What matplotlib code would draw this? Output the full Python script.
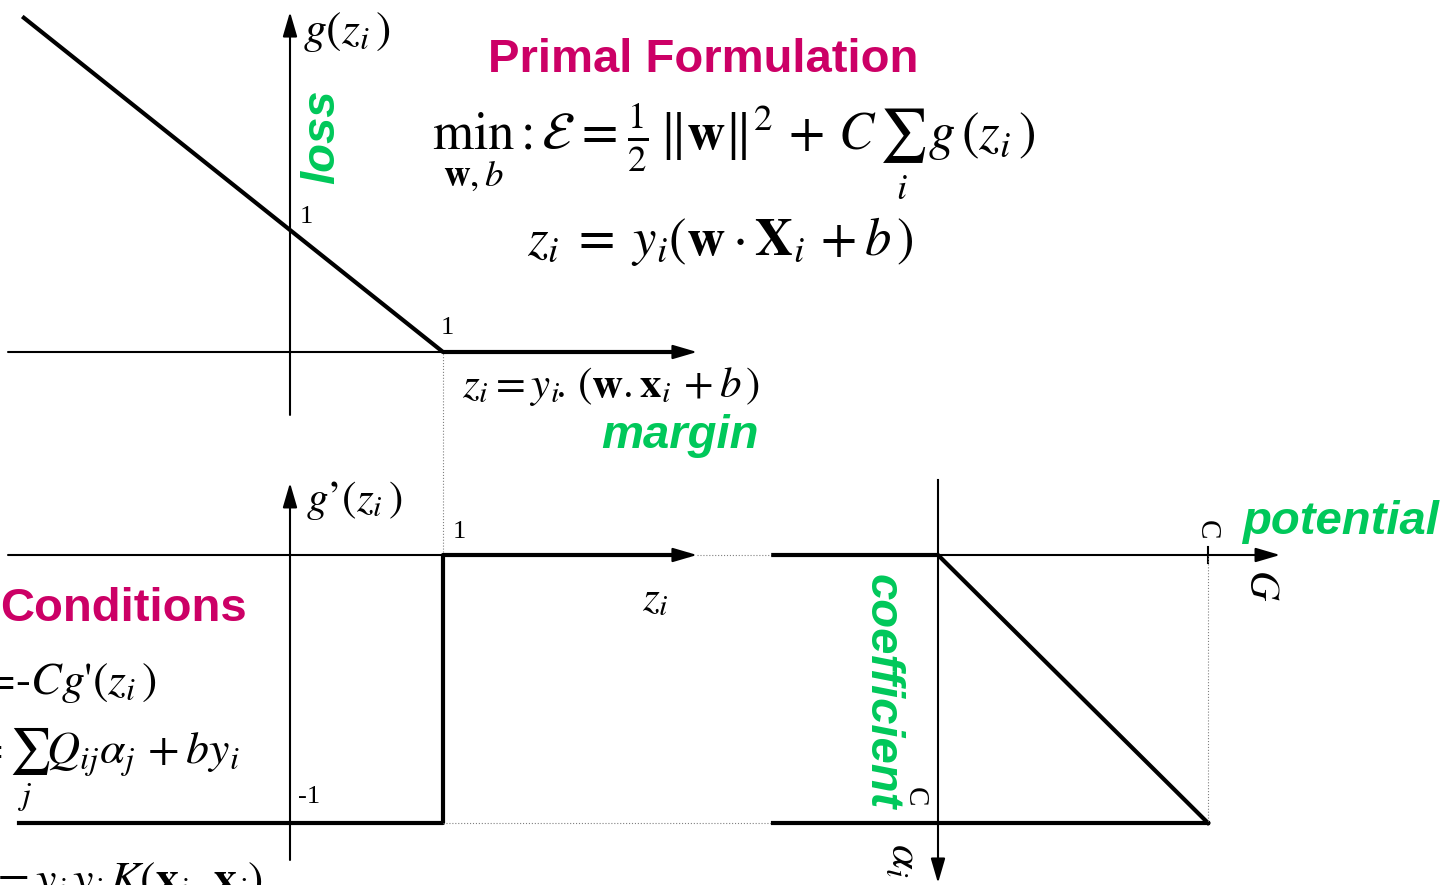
import matplotlib
matplotlib.use("Agg")
import matplotlib.pyplot as plt

W, H = 1449, 885

# hinge loss g(z) = max(0, 1 - z)
z_loss = [-1.75, 1.0, 2.6]
g_loss = [2.75, 0.0, 0.0]

# derivative g'(z): -1 below the margin, 0 above it
z_grad = [-1.77, 1.0, 1.0, 2.6]
g_grad = [-1.0, -1.0, 0.0, 0.0]

# coefficient alpha against potential G (C = 1)
C = 1.0
G_coef = [-0.61, 0.0, C]
alpha_coef = [0.0, 0.0, C]
G_box = [-0.61, C]
alpha_box = [C, C]

MAGENTA = "#cc0066"
GREEN = "#00c85a"
SANS = "Liberation Sans"
SERIF = "Liberation Serif"
STIX = "STIXGeneral"

plt.rcParams["mathtext.fontset"] = "stix"

fig = plt.figure(figsize=(W / 100, H / 100), dpi=100)
fig.patch.set_facecolor("white")


def panel(left, top, right, bottom, x0, y0, sx, sy):
    """Axes whose data origin sits at pixel (x0, y0) with sx, sy px per unit."""
    ax = fig.add_axes([left / W, 1 - bottom / H, (right - left) / W, (bottom - top) / H])
    ax.set_xlim((left - x0) / sx, (right - x0) / sx)
    ax.set_ylim((y0 - bottom) / sy, (y0 - top) / sy)
    ax.axis("off")
    return ax


def arrow(ax, start, tip, lw=1.5):
    ax.annotate("", xy=tip, xytext=start, annotation_clip=False,
                arrowprops=dict(arrowstyle="-|>,head_length=0.75,head_width=0.22",
                                mutation_scale=20, color="black", lw=lw,
                                shrinkA=0, shrinkB=0))


def px(x, y):
    return x / W, 1 - y / H


# --- loss panel ---
ax1 = panel(0, 0, 720, 430, 290, 352, 153, 122)
arrow(ax1, (-1.843, 0), (2.66, 0))
arrow(ax1, (0, -0.516), (0, 2.787))
ax1.plot(z_loss, g_loss, color="black", lw=3.0, solid_capstyle="butt", clip_on=False)

# --- derivative panel ---
ax2 = panel(0, 470, 780, 885, 290, 555, 153, 268)
arrow(ax2, (-1.843, 0), (2.66, 0))
arrow(ax2, (0, -1.138), (0, 0.269))
ax2.plot(z_grad, g_grad, color="black", lw=3.0, clip_on=False)
ax2.plot([1, 1], [0, 0.757], color="gray", lw=0.8, ls=":", clip_on=False)
ax2.plot([1, 3.16], [-1, -1], color="gray", lw=0.8, ls=":", clip_on=False)
ax2.plot([2.66, 3.16], [0, 0], color="gray", lw=0.8, ls=":", clip_on=False)

# --- coefficient panel (alpha grows downwards) ---
ax3 = panel(760, 470, 1449, 885, 938, 555, 270, -268)
ax3.plot([0, 0], [-0.28, 0.0], color="black", lw=1.5)
arrow(ax3, (0, 0), (0, 1.224))
arrow(ax3, (0, 0), (1.267, 0))
ax3.plot([C, C], [-0.03, 0.03], color="black", lw=1.5)
ax3.plot(G_coef, alpha_coef, color="black", lw=3.0, clip_on=False)
ax3.plot(G_box, alpha_box, color="black", lw=3.0, clip_on=False)
ax3.plot([C, C], [0, C], color="gray", lw=0.8, ls=":")

# --- labels ---
fig.text(*px(303, 32), r"$g(z_i\,)$", fontsize=33, ha="left", va="center")
fig.text(*px(322, 137), "loss", fontsize=34, family=SANS, weight="bold", style="italic",
         color=GREEN, rotation=90, ha="center", va="center")
fig.text(*px(300, 217), "1", fontsize=19, family=SERIF, ha="left", va="center")
fig.text(*px(441, 328), "1", fontsize=19, family=SERIF, ha="left", va="center")

fig.text(*px(703, 60), "Primal Formulation", fontsize=34, family=SANS, weight="bold",
         color=MAGENTA, ha="center", va="center")
fig.text(*px(432, 150),
         r"$\min_{\mathbf{w},b}\,:\,\mathcal{E}\;=\;\frac{1}{2}\,\Vert\mathbf{w}\Vert^2"
         r"+\,C\,\sum_i\,g\,(z_i\,)$",
         fontsize=38, ha="left", va="baseline")
fig.text(*px(527, 255), r"$z_i\;=\;y_i(\mathbf{w}\cdot\mathbf{X}_i\,+b\,)$",
         fontsize=38, ha="left", va="baseline")

fig.text(*px(462, 397), r"$z_i=y_i\!.\,(\mathbf{w}.\mathbf{x}_i\,+b\,)$", fontsize=31,
         ha="left", va="baseline")
fig.text(*px(680, 436), "margin", fontsize=34, family=SANS, weight="bold", style="italic",
         color=GREEN, ha="center", va="center")

fig.text(*px(306, 500), r"$g$" + "\u2019" + r"$(z_i\,)$", fontsize=31, family=STIX,
         ha="left", va="center")
fig.text(*px(453, 532), "1", fontsize=19, family=SERIF, ha="left", va="center")
fig.text(*px(655, 598), r"$z_i$", fontsize=31, ha="center", va="center")
fig.text(*px(298, 797), "-1", fontsize=19, family=SERIF, ha="left", va="center")

fig.text(*px(0, 609), "Conditions", fontsize=34, family=SANS, weight="bold",
         color=MAGENTA, ha="left", va="center")
fig.text(*px(157, 683), r"$\alpha_i$ =-$Cg$'$(z_i\,)$", fontsize=33, family=STIX,
         ha="right", va="center")
fig.text(*px(240, 770), r"$G_i=\sum_j Q_{ij}\alpha_j\,+by_i$", fontsize=33,
         ha="right", va="center")
fig.text(*px(263, 860), r"$Q_{ij}=y_i\,y_j\,K(\mathbf{x}_i,\,\mathbf{x}_j)$", fontsize=33,
         ha="right", va="top")

fig.text(*px(882, 692), "coefficient", fontsize=34, family=SANS, weight="bold",
         style="italic", color=GREEN, rotation=-90, ha="center", va="center")
fig.text(*px(1340, 522), "potential", fontsize=34, family=SANS, weight="bold",
         style="italic", color=GREEN, ha="center", va="center")
fig.text(*px(1207, 530), "C", fontsize=21, family=SERIF, rotation=-90,
         ha="center", va="center")
fig.text(*px(1262, 585), r"$G$", fontsize=30, rotation=-90, ha="center", va="center")
fig.text(*px(915, 797), "C", fontsize=21, family=SERIF, rotation=-90,
         ha="center", va="center")
fig.text(*px(905, 860), r"$\alpha_i$", fontsize=32, rotation=-90, ha="center", va="center")

fig.savefig("out.png", dpi=100, facecolor="white")
